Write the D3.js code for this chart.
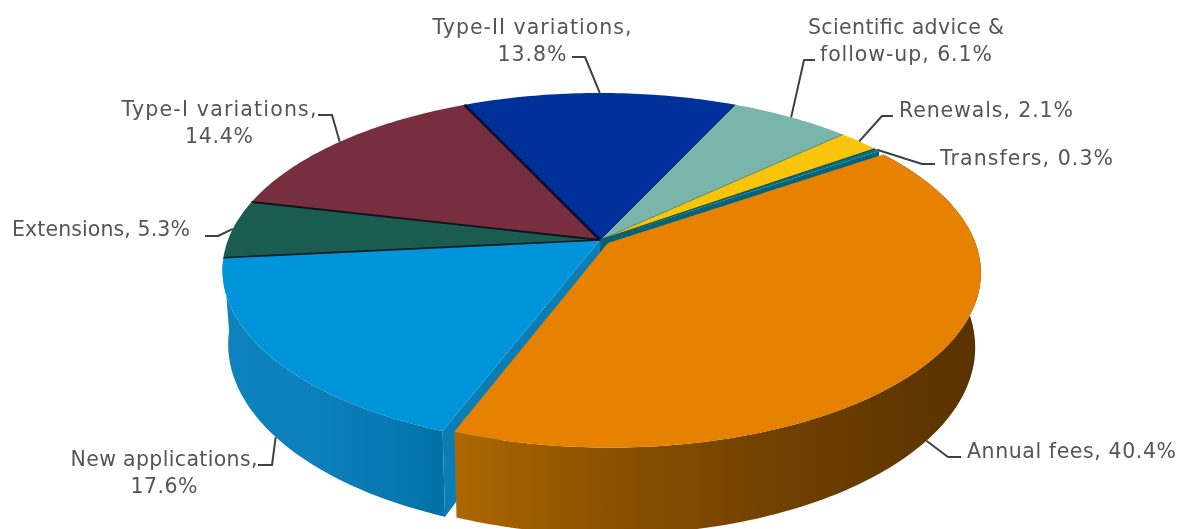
<!DOCTYPE html>
<html>
<head>
<meta charset="utf-8">
<script src="https://cdnjs.cloudflare.com/ajax/libs/d3/7.8.5/d3.min.js"></script>
<style>
  html, body { margin: 0; padding: 0; background: #fff; overflow: hidden; }
  svg { display: block; filter: blur(0.4px); }
  text { font-family: "DejaVu Sans", Verdana, sans-serif; font-size: 20.5px; fill: #555; }
</style>
</head>
<body>
<svg id="chart" width="1183" height="529"></svg>
<script>
// slices, clockwise, starting at the annual fees slice
const categories = ['Annual fees', 'New applications', 'Extensions', 'Type-I variations',
  'Type-II variations', 'Scientific advice & follow-up', 'Renewals', 'Transfers'];
const shares = [40.4, 17.6, 5.3, 14.4, 13.8, 6.1, 2.1, 0.3];
const topColors = ['#e68200', '#0095da', '#1a5c50', '#772f40', '#00309a', '#7ab5ab', '#f9c50c', '#00708a'];

// label layout: text lines with their widths, anchor of the first line, elbow of the leader
const labels = [
  { lines: ['Annual fees, 40.4%'], widths: [209], x: 967, y: 458, anchor: 'start', from: [961, 457], elbow: [948, 457], onWall: true },
  { lines: ['New applications,', '17.6%'], widths: [187, 67], x: 164, y: 466, anchor: 'middle', from: [258, 465], elbow: [272, 465], onWall: true },
  { lines: ['Extensions, 5.3%'], widths: [178], x: 12, y: 236, anchor: 'start', from: [205, 236], elbow: [218, 236] },
  { lines: ['Type-I variations,', '14.4%'], widths: [195, 68], x: 219, y: 116, anchor: 'middle', from: [318, 115], elbow: [332, 115] },
  { lines: ['Type-II variations,', '13.8%'], widths: [199, 69], x: 532, y: 34, anchor: 'middle', from: [572, 57], elbow: [585, 57] },
  { lines: ['Scientific advice &', 'follow-up, 6.1%'], widths: [196, 172], x: 906, y: 34, anchor: 'middle', from: [815, 60], elbow: [804, 60] },
  { lines: ['Renewals, 2.1%'], widths: [174], x: 899, y: 117, anchor: 'start', from: [893, 116], elbow: [882, 116] },
  { lines: ['Transfers, 0.3%'], widths: [173], x: 940, y: 165, anchor: 'start', from: [935, 164], elbow: [922, 164] }
];

const cx = 600, cy = 240, radius = 372, tiltRadius = 172;
const perspective = 0.17, depth = 72, bottomScale = 0.985;
const explode = 0.027, explodedSize = 0.985;

const svg = d3.select('#chart');
const defs = svg.append('defs');
const line = d3.line();

const pie = d3.pie().sort(null).value(d => d)
  .startAngle(55.4 * Math.PI / 180)
  .endAngle((55.4 + 360) * Math.PI / 180);
const arcs = pie(shares);

// disc point -> screen point, z = 0 top face, z = 1 bottom face
function project(angle, r, z, shift) {
  const X = r * Math.sin(angle) + (shift ? shift[0] : 0);
  const Y = -r * Math.cos(angle) + (shift ? shift[1] : 0);
  const s = 1 / (1 - perspective * Y);
  const k = z ? bottomScale : 1;
  return [cx + radius * X * s * k, cy + tiltRadius * Y * s + z * depth * s];
}

function arcPoints(a, z, shift, size) {
  const n = Math.max(2, Math.ceil((a.endAngle - a.startAngle) * 60));
  return d3.range(n + 1).map(i =>
    project(a.startAngle + (a.endAngle - a.startAngle) * i / n, size, z, shift));
}

function shiftOf(i) {
  if (i !== 0) return null;
  const mid = (arcs[0].startAngle + arcs[0].endAngle) / 2;
  return [explode * Math.sin(mid), -explode * Math.cos(mid)];
}
const sizeOf = i => i === 0 ? explodedSize : 1;

function wallGradient(id, x0, x1, stops) {
  const g = defs.append('linearGradient').attr('id', id)
    .attr('gradientUnits', 'userSpaceOnUse')
    .attr('x1', x0).attr('x2', x1).attr('y1', 0).attr('y2', 0);
  stops.forEach(s => g.append('stop').attr('offset', s[0]).attr('stop-color', s[1]));
}
wallGradient('wall-blue', 222, 450, [[0, '#0f82be'], [0.4, '#0b80ba'], [0.7, '#0879b2'], [1, '#0070a6']]);
wallGradient('wall-orange', 457, 980, [[0, '#ac6700'], [0.3, '#8a5000'], [0.65, '#6e3f00'], [1, '#583200']]);

function wall(i, fill) {
  const shift = shiftOf(i), size = sizeOf(i);
  const pts = arcPoints(arcs[i], 0, shift, size).concat(arcPoints(arcs[i], 1, shift, size).reverse());
  svg.append('path').attr('d', line(pts) + 'Z').attr('fill', fill);
}

function cutFace(angle, fill) {
  svg.append('path')
    .attr('d', line([project(0, 0, 0), project(angle, 1, 0), project(angle, 1, 1), project(0, 0, 1)]) + 'Z')
    .attr('fill', fill);
}

function topFace(i) {
  const shift = shiftOf(i), size = sizeOf(i);
  const apex = project(0, 0, 0, shift);
  svg.append('path').attr('d', line([apex].concat(arcPoints(arcs[i], 0, shift, size))) + 'Z')
    .attr('fill', topColors[i]);
}

// cut faces left open by the exploded slice, behind the top faces
cutFace(arcs[7].endAngle, '#00657c');
wall(1, 'url(#wall-blue)');
cutFace(arcs[1].startAngle, '#0a7db5');

d3.range(1, arcs.length).forEach(topFace);

// dark separators between the back slices
[[2, '#0c1a22', 1.6], [3, '#10121a', 1.8], [4, '#0a0f30', 2.6],
 [5, '#0e2a6a', 1], [6, '#4d8a6e', 1], [7, '#1a4c3a', 1.2]].forEach(([i, color, w]) => {
  svg.append('path')
    .attr('d', line([project(0, 0, 0), project(arcs[i].startAngle, 1, 0)]))
    .attr('stroke', color).attr('stroke-width', w).attr('fill', 'none');
});

// annual fees sits in front, pulled out of the pie
wall(0, 'url(#wall-orange)');
topFace(0);

// leaders run from the mid angle of each slice
labels.forEach((l, i) => {
  const mid = (arcs[i].startAngle + arcs[i].endAngle) / 2;
  const end = project(mid, sizeOf(i), l.onWall ? 1 : 0, shiftOf(i));
  svg.append('path')
    .attr('d', line([l.from, l.elbow, end]))
    .attr('fill', 'none').attr('stroke', '#404040').attr('stroke-width', 2)
    .attr('stroke-linejoin', 'round');
  const t = svg.append('text').attr('text-anchor', l.anchor);
  l.lines.forEach((s, j) => {
    t.append('tspan').attr('x', l.x).attr('y', l.y + j * 26.5)
      .attr('textLength', l.widths[j]).attr('lengthAdjust', 'spacing').text(s);
  });
});
</script>
</body>
</html>
